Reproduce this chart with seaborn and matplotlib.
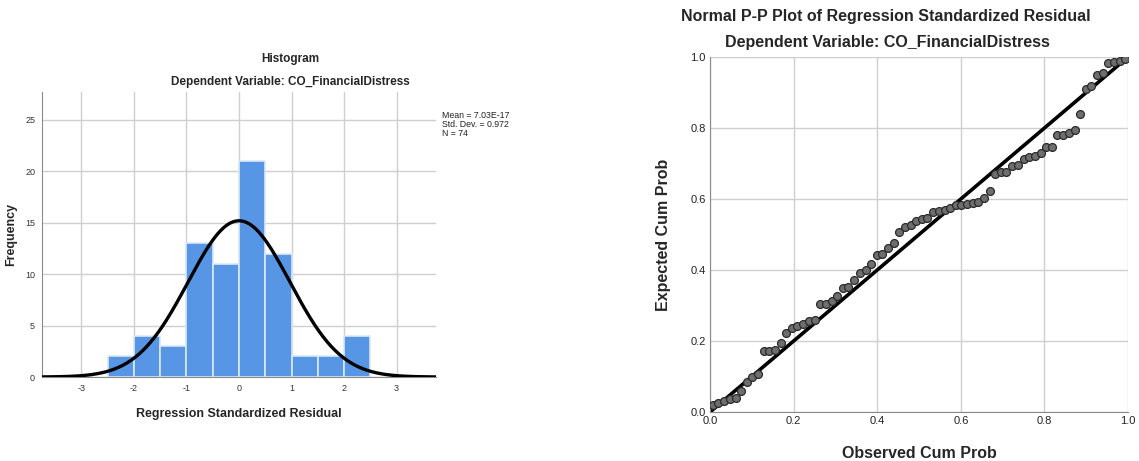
"""
Regression residual diagnostics: histogram with normal curve + normal P-P plot.
"""
import numpy as np
import pandas as pd
import matplotlib
matplotlib.use("Agg")
import matplotlib.pyplot as plt
import seaborn as sns

# ------------------------------------------------------------------
# DATA
# ------------------------------------------------------------------
bin_edges = [-2.5, -2.0, -1.5, -1.0, -0.5, 0.0, 0.5, 1.0, 1.5, 2.0, 2.5]
bin_centers = [-2.25, -1.75, -1.25, -0.75, -0.25, 0.25, 0.75, 1.25, 1.75, 2.25]
bin_counts = [2, 4, 3, 13, 11, 21, 12, 2, 2, 4]

resid_mean = 7.03e-17
resid_sd = 0.972
n_obs = 74

hist_xticks = [-3, -2, -1, 0, 1, 2, 3]
hist_yticks = [0, 5, 10, 15, 20, 25]

observed_cum = [
    0.007, 0.020, 0.034, 0.047, 0.061, 0.074, 0.088, 0.101, 0.115, 0.128,
    0.142, 0.155, 0.169, 0.182, 0.196, 0.209, 0.223, 0.236, 0.250, 0.264,
    0.277, 0.291, 0.304, 0.318, 0.331, 0.345, 0.358, 0.372, 0.385, 0.399,
    0.412, 0.426, 0.439, 0.453, 0.466, 0.480, 0.493, 0.507, 0.520, 0.534,
    0.547, 0.561, 0.574, 0.588, 0.601, 0.615, 0.628, 0.642, 0.655, 0.669,
    0.682, 0.696, 0.709, 0.723, 0.736, 0.750, 0.764, 0.777, 0.791, 0.804,
    0.818, 0.831, 0.845, 0.858, 0.872, 0.885, 0.899, 0.912, 0.926, 0.939,
    0.953, 0.966, 0.980, 0.993,
]
expected_cum = [
    0.020, 0.024, 0.030, 0.037, 0.040, 0.060, 0.085, 0.099, 0.108, 0.171,
    0.172, 0.176, 0.193, 0.223, 0.237, 0.241, 0.247, 0.257, 0.260, 0.303,
    0.305, 0.312, 0.326, 0.348, 0.352, 0.373, 0.392, 0.399, 0.416, 0.443,
    0.446, 0.461, 0.475, 0.507, 0.521, 0.526, 0.538, 0.545, 0.546, 0.562,
    0.566, 0.570, 0.576, 0.582, 0.584, 0.587, 0.588, 0.592, 0.604, 0.623,
    0.669, 0.676, 0.676, 0.693, 0.695, 0.714, 0.717, 0.721, 0.729, 0.746,
    0.746, 0.779, 0.779, 0.786, 0.795, 0.839, 0.911, 0.917, 0.948, 0.955,
    0.983, 0.986, 0.989, 0.995,
]
pp_ticks = [0.0, 0.2, 0.4, 0.6, 0.8, 1.0]

# ------------------------------------------------------------------
# STYLE
# ------------------------------------------------------------------
sns.set_style("white")
plt.rcParams["font.family"] = ["Liberation Sans", "DejaVu Sans"]
plt.rcParams["axes.unicode_minus"] = False

BAR_COLOR = "#5796E4"
GRID_COLOR = "#cfcfcf"
SPINE_COLOR = "#8a8a8a"

fig = plt.figure(figsize=(11.39, 4.61), dpi=100)

# ------------------------------------------------------------------
# HISTOGRAM
# ------------------------------------------------------------------
ax1 = fig.add_axes([0.0369, 0.1822, 0.3459, 0.6182])
hist_df = pd.DataFrame({"resid": bin_centers, "count": bin_counts})
sns.histplot(data=hist_df, x="resid", weights="count", bins=bin_edges,
             color=BAR_COLOR, alpha=1.0, edgecolor="#dbe8f8", linewidth=1.2,
             ax=ax1, zorder=2)

# fitted normal curve, scaled to counts
xs = np.linspace(-3.75, 3.75, 400)
bw = bin_edges[1] - bin_edges[0]
curve = n_obs * bw * np.exp(-0.5 * ((xs - resid_mean) / resid_sd) ** 2) \
    / (resid_sd * np.sqrt(2 * np.pi))
sns.lineplot(x=xs, y=curve, color="black", linewidth=2.4, ax=ax1, zorder=3)

ax1.set_xlim(-3.75, 3.75)
ax1.set_ylim(0, 27.7)
ax1.set_xticks(hist_xticks)
ax1.set_yticks(hist_yticks)
ax1.tick_params(length=0, labelsize=6.5, colors="#333333", pad=5)
ax1.grid(True, color=GRID_COLOR, linewidth=1.0, zorder=0)
ax1.set_axisbelow(True)
for side in ("top", "right"):
    ax1.spines[side].set_visible(False)
ax1.spines["left"].set_color(SPINE_COLOR)
ax1.spines["bottom"].set_color(SPINE_COLOR)
ax1.set_xlabel("Regression Standardized Residual", fontsize=9,
               fontweight="bold", labelpad=11)
ax1.set_ylabel("Frequency", fontsize=9, fontweight="bold", labelpad=6)
ax1.text(0.63, 1.115, "Histogram", transform=ax1.transAxes,
         ha="center", va="center", fontsize=8.5, fontweight="bold")
ax1.text(0.63, 1.035, "Dependent Variable: CO_FinancialDistress",
         transform=ax1.transAxes, ha="center", va="center", fontsize=8.5,
         fontweight="bold")
ax1.text(1.015, 0.935,
         f"Mean = {resid_mean:.2E}\nStd. Dev. = {resid_sd}\nN = {n_obs}",
         transform=ax1.transAxes, ha="left", va="top", fontsize=6.3,
         linespacing=1.0, color="#222222")

# ------------------------------------------------------------------
# NORMAL P-P PLOT
# ------------------------------------------------------------------
ax2 = fig.add_axes([0.6234, 0.1063, 0.3670, 0.7701])
ax2.plot([0, 1], [0, 1], color="black", linewidth=2.6, zorder=2)
sns.scatterplot(x=observed_cum, y=expected_cum, s=32, color="#6e6e6e",
                edgecolor="#2a2a2a", linewidth=0.9, ax=ax2, zorder=3)
ax2.set_xlim(0, 1)
ax2.set_ylim(0, 1)
ax2.set_xticks(pp_ticks)
ax2.set_yticks(pp_ticks)
ax2.set_xticklabels([f"{t:.1f}" for t in pp_ticks])
ax2.set_yticklabels([f"{t:.1f}" for t in pp_ticks])
ax2.tick_params(length=0, labelsize=8, colors="#222222", pad=3)
ax2.grid(True, color=GRID_COLOR, linewidth=1.0, zorder=0)
ax2.set_axisbelow(True)
for side in ("top", "right"):
    ax2.spines[side].set_visible(False)
ax2.spines["left"].set_color(SPINE_COLOR)
ax2.spines["bottom"].set_color(SPINE_COLOR)
ax2.set_xlabel("Observed Cum Prob", fontsize=11.5, fontweight="bold",
               labelpad=14)
ax2.set_ylabel("Expected Cum Prob", fontsize=11.5, fontweight="bold",
               labelpad=14)
ax2.text(0.42, 1.115, "Normal P-P Plot of Regression Standardized Residual",
         transform=ax2.transAxes, ha="center", va="center", fontsize=11.5,
         fontweight="bold")
ax2.text(0.425, 1.04, "Dependent Variable: CO_FinancialDistress",
         transform=ax2.transAxes, ha="center", va="center", fontsize=11.5,
         fontweight="bold")

fig.savefig("out.png", dpi=100)
